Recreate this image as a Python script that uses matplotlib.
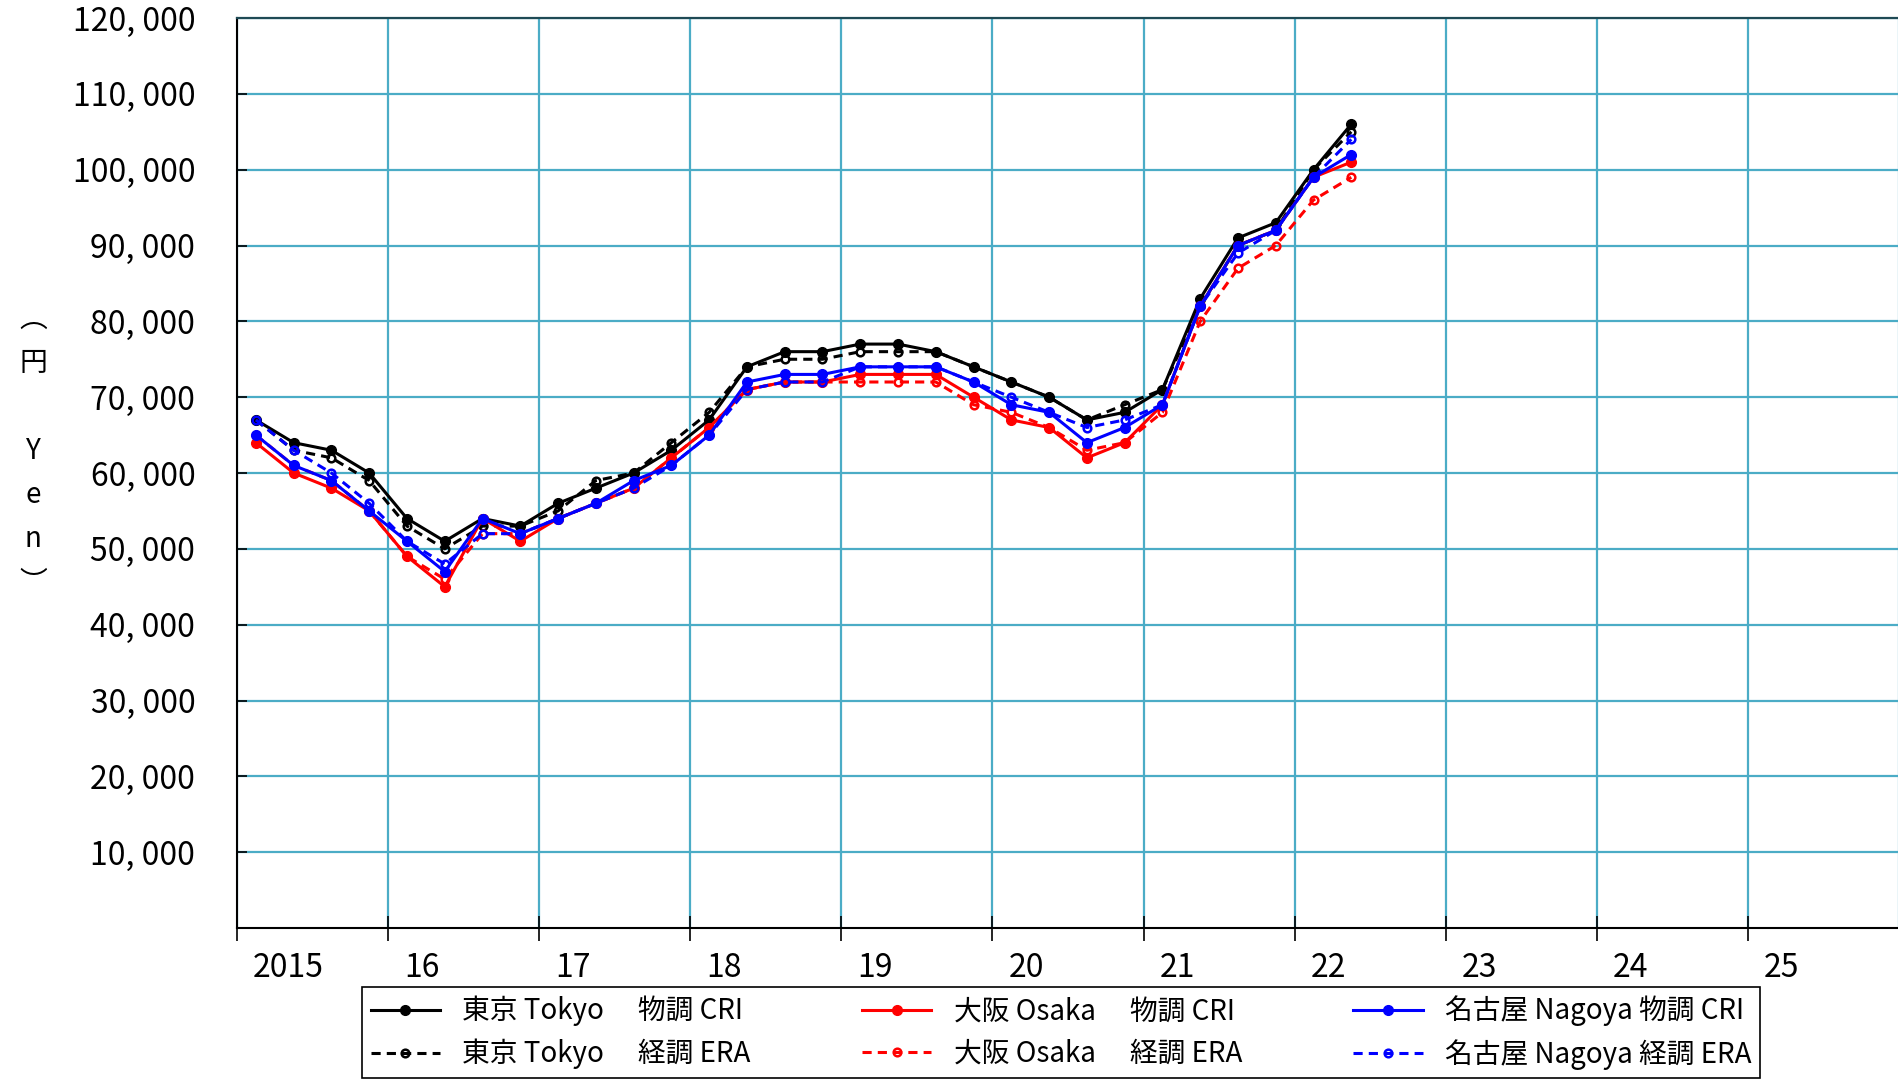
import matplotlib
matplotlib.use('Agg')

import matplotlib.pyplot as plt
import numpy as np

# Quarterly data, 2015 Q1 .. 2022 Q2 (yen)
quarter = np.arange(30)
x = 2015 + (quarter + 0.5) / 4

tokyo_cri = [67000, 64000, 63000, 60000, 54000, 51000, 54000, 53000, 56000, 58000,
             60000, 63000, 67000, 74000, 76000, 76000, 77000, 77000, 76000, 74000,
             72000, 70000, 67000, 68000, 71000, 83000, 91000, 93000, 100000, 106000]
tokyo_era = [67000, 63000, 62000, 59000, 53000, 50000, 53000, 53000, 55000, 59000,
             60000, 64000, 68000, 74000, 75000, 75000, 76000, 76000, 76000, 74000,
             72000, 70000, 67000, 69000, 71000, 82000, 90000, 92000, 100000, 105000]
osaka_cri = [64000, 60000, 58000, 55000, 49000, 45000, 54000, 51000, 54000, 56000,
             58000, 62000, 66000, 71000, 72000, 72000, 73000, 73000, 73000, 70000,
             67000, 66000, 62000, 64000, 69000, 82000, 90000, 92000, 99000, 101000]
osaka_era = [65000, 61000, 59000, 55000, 49000, 46000, 52000, 52000, 54000, 56000,
             58000, 62000, 66000, 71000, 72000, 72000, 72000, 72000, 72000, 69000,
             68000, 66000, 63000, 64000, 68000, 80000, 87000, 90000, 96000, 99000]
nagoya_cri = [65000, 61000, 59000, 55000, 51000, 47000, 54000, 52000, 54000, 56000,
              59000, 61000, 65000, 72000, 73000, 73000, 74000, 74000, 74000, 72000,
              69000, 68000, 64000, 66000, 69000, 82000, 90000, 92000, 99000, 102000]
nagoya_era = [67000, 63000, 60000, 56000, 51000, 48000, 52000, 52000, 54000, 56000,
              58000, 61000, 65000, 71000, 72000, 72000, 74000, 74000, 74000, 72000,
              70000, 68000, 66000, 67000, 69000, 82000, 89000, 92000, 99000, 104000]

year_labels = ['2015', '16', '17', '18', '19', '20', '21', '22', '23', '24', '25']
years = np.arange(2015, 2027)

plt.rcParams['font.family'] = ['Noto Sans CJK JP', 'DejaVu Sans']

fig = plt.figure(figsize=(18.99, 10.80), dpi=100)
ax = fig.add_axes([237 / 1899, 1 - 928 / 1080, 1 - 237 / 1899, 910 / 1080])

grid_c = '#4BACC6'
ax.grid(True, color=grid_c, linewidth=1.6)
ax.set_axisbelow(True)

# CRI = solid with filled dots, ERA = dashed with open circles
lw = 2.2
ax.plot(x, tokyo_cri, '-', color='black', lw=lw, marker='o', ms=7, label='東京 Tokyo　 物調 CRI')
ax.plot(x, tokyo_era, '--', color='black', lw=lw, dashes=(3, 2), marker='o', ms=5.5,
        mfc='none', mew=1.8, label='東京 Tokyo　 経調 ERA')
ax.plot(x, osaka_cri, '-', color='red', lw=lw, marker='o', ms=7, label='大阪 Osaka　 物調 CRI')
ax.plot(x, osaka_era, '--', color='red', lw=lw, dashes=(3, 2), marker='o', ms=5.5,
        mfc='none', mew=1.8, label='大阪 Osaka　 経調 ERA')
ax.plot(x, nagoya_cri, '-', color='blue', lw=lw, marker='o', ms=7, label='名古屋 Nagoya 物調 CRI')
ax.plot(x, nagoya_era, '--', color='blue', lw=lw, dashes=(3, 2), marker='o', ms=5.5,
        mfc='none', mew=1.8, label='名古屋 Nagoya 経調 ERA')

ax.set_xlim(2015, 2026)
ax.set_ylim(0, 120000)

# y axis
yt = np.arange(10000, 120001, 10000)
ax.set_yticks(yt)
ax.set_yticklabels([f'{v:,}'.replace(',', ', ') for v in yt], fontsize=23)
ax.tick_params(axis='y', direction='in', length=7, width=1.2, pad=30)

# x axis: year boundaries with inout ticks, labels just right of each boundary
ax.set_xticks(years)
ax.set_xticklabels([])
ax.tick_params(axis='x', which='major', direction='inout', length=18, width=1.2)
ax.set_xticks(years[:-1] + 0.105, minor=True)
ax.set_xticklabels(year_labels, minor=True, fontsize=23, ha='left')
ax.tick_params(axis='x', which='minor', length=0, pad=17)

for s in ['left', 'bottom']:
    ax.spines[s].set_color('black')
    ax.spines[s].set_linewidth(1.5)
ax.spines['top'].set_color('#1F4A55')
ax.spines['top'].set_linewidth(1.6)
ax.spines['right'].set_visible(False)

# vertical y-axis title
ylabel_chars = ['︵', '円', '', 'Y', 'e', 'n', '︶']
for i, ch in enumerate(ylabel_chars):
    fig.text(33 / 1899, 1 - (319 + 44 * i) / 1080, ch, ha='center', va='center',
             fontsize=20, family='Noto Sans CJK JP')

leg = fig.legend(loc='lower center', bbox_to_anchor=(1061 / 1899, 2 / 1080), ncol=3,
                 fontsize=20, frameon=True, fancybox=False, edgecolor='black',
                 framealpha=1, handlelength=2.5, columnspacing=4.0, labelspacing=0.45,
                 borderpad=0.3, borderaxespad=0)
leg.get_frame().set_linewidth(1.2)

fig.savefig('out.png', dpi=100)
